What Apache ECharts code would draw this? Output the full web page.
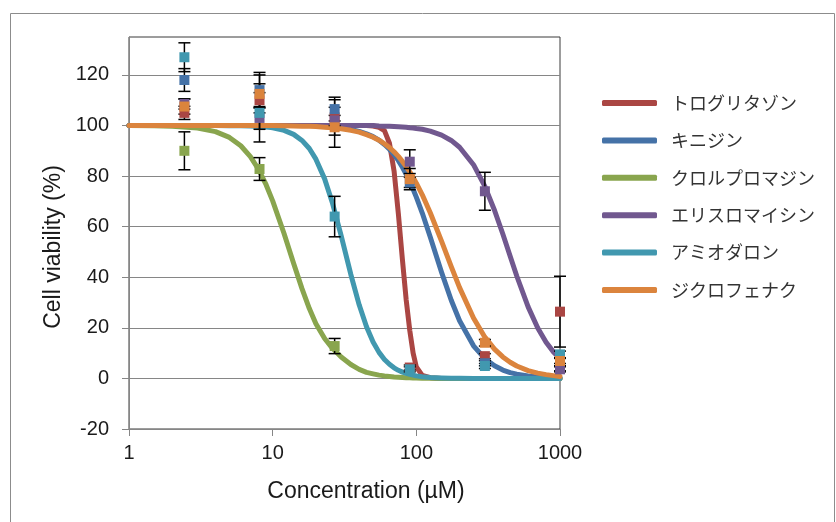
<!DOCTYPE html>
<html>
<head>
<meta charset="utf-8">
<script src="https://cdn.jsdelivr.net/npm/echarts@6/dist/echarts.min.js"></script>
<style>
  html, body { margin: 0; padding: 0; background: #fff; }
  #chart { width: 836px; height: 522px; }
</style>
</head>
<body>
<div id="chart"></div>
<script>
// 薬剤名（凡例）
const drugNames = ['トログリタゾン', 'キニジン', 'クロルプロマジン', 'エリスロマイシン', 'アミオダロン', 'ジクロフェナク'];

// 測定濃度 (µM)
const concentrations = [2.43, 8.1, 27, 90, 300, 1000];

// 測定値（平均）と誤差  null = 図で見えない点
const troglitazoneMean = [105, 110, 103.2, 4.3, 8.8, 26.4];
const troglitazoneErr = [2.6, 3, 7, 1, 1, 14];
const quinidineMean = [118, 114, 106.5, 77.5, 6, 4];
const quinidineErr = [4.5, 7, 4.7, 2, 1, 1];
const chlorpromazineMean = [90, 82.8, 12.8, null, null, null];
const chlorpromazineErr = [7.5, 4.5, 3, null, null, null];
const erythromycinMean = [108.5, 103, 102, 85.7, 74, 3.6];
const erythromycinErr = [2, 4.5, 2, 4.7, 7.5, 1];
const amiodaroneMean = [127, 105, 64, 3.6, 4.9, 9.5];
const amiodaroneErr = [5.7, 11.5, 8, 1, 1, 1.3];
const diclofenacMean = [107.5, 112.5, 99.3, 78.8, 14.1, 6.9];
const diclofenacErr = [3, 7.5, 7.9, 4.2, 1.3, 1];

// フィット曲線
const curveConc = [1, 1.5, 2, 3, 4, 5, 6, 7, 8, 9, 10, 12, 14, 16, 18, 20, 23, 26, 30, 35, 40, 45, 50, 55, 60, 65, 70, 75, 80, 85, 90, 95, 100, 110, 125, 150, 175, 200, 250, 300, 350, 400, 450, 500, 600, 700, 800, 900, 1000];
const troglitazoneFit = [100, 100, 100, 100, 100, 100, 100, 100, 100, 100, 100, 100, 100, 100, 100, 100, 100, 100, 100, 100, 100, 100, 99.8, 99.3, 98, 93, 82, 65, 47, 31, 19, 10, 4.5, 1.2, 0.3, 0, 0, 0, 0, 0, 0, 0, 0, 0, 0, 0, 0, 0, 0];
const quinidineFit = [100, 100, 100, 100, 100, 100, 100, 100, 100, 100, 100, 100, 100, 100, 100, 100, 99.6, 99.4, 99.1, 98.5, 97.7, 96.7, 95.6, 94.2, 92.5, 90.6, 88.5, 86.1, 83.5, 80.7, 77.8, 74.8, 71.7, 65.4, 55.9, 41.9, 30.9, 22.8, 12.9, 7.8, 5.0, 3.3, 2.3, 1.7, 1.0, 0.6, 0.4, 0.3, 0.2];
const chlorpromazineFit = [100, 99.9, 99.7, 99.0, 97.6, 95.3, 92, 87.7, 82.5, 76.6, 70.2, 57.3, 45.4, 35.5, 27.6, 21.6, 15.8, 12, 8.5, 5.5, 3.6, 2.4, 1.8, 1.3, 1.0, 0.8, 0.6, 0.5, 0.4, 0.3, 0.3, 0.2, 0.2, 0.1, 0.1, 0, 0, 0, 0, 0, 0, 0, 0, 0, 0, 0, 0, 0, 0];
const erythromycinFit = [100, 100, 100, 100, 100, 100, 100, 100, 100, 100, 100, 100, 100, 100, 100, 100, 100, 100, 100, 100, 100, 100, 100, 99.8, 99.7, 99.7, 99.6, 99.5, 99.4, 99.3, 99.1, 99.0, 98.8, 98.5, 97.8, 96.2, 94.1, 91.4, 84.5, 75.9, 66.5, 57.1, 48.3, 40.5, 28.3, 19.9, 14.3, 10.5, 7.9];
const amiodaroneFit = [100, 100, 100, 100, 100, 99.9, 99.9, 99.8, 99.6, 99.4, 99.1, 98.1, 96.5, 94.1, 90.9, 86.7, 78.9, 69.6, 56.4, 41.1, 29.1, 20.4, 14.4, 10.3, 7.5, 5.6, 4.2, 3.2, 2.5, 2.0, 1.6, 1.3, 1.0, 0.7, 0.4, 0.2, 0.1, 0.1, 0, 0, 0, 0, 0, 0, 0, 0, 0, 0, 0];
const diclofenacFit = [100, 100, 100, 100, 100, 100, 100, 100, 100, 100, 100, 99.9, 99.8, 99.7, 99.7, 99.6, 99.3, 99.1, 98.7, 98.1, 97.4, 96.4, 95.4, 94.2, 92.8, 91.3, 89.6, 87.8, 85.8, 83.8, 81.7, 79.5, 77.2, 72.6, 65.5, 54.2, 44.2, 35.9, 23.9, 16.3, 11.6, 8.5, 6.4, 4.9, 3.1, 2.1, 1.5, 1.1, 0.8];

// 軸目盛
const yTicks = [-20, 0, 20, 40, 60, 80, 100, 120];

const colors = ['#AA4643', '#4572A7', '#89A54E', '#71588F', '#4198AF', '#DB843D'];

const means = [troglitazoneMean, quinidineMean, chlorpromazineMean, erythromycinMean, amiodaroneMean, diclofenacMean];
const errs = [troglitazoneErr, quinidineErr, chlorpromazineErr, erythromycinErr, amiodaroneErr, diclofenacErr];
const fits = [troglitazoneFit, quinidineFit, chlorpromazineFit, erythromycinFit, amiodaroneFit, diclofenacFit];

// エラーバー描画
const renderErrorBar = (params, api) => {
  const x = api.value(0);
  const top = api.coord([x, api.value(2)]);
  const bot = api.coord([x, api.value(1)]);
  const half = 6;
  const style = { stroke: '#000', lineWidth: 1.5 };
  return {
    type: 'group',
    children: [
      { type: 'line', shape: { x1: top[0], y1: top[1], x2: bot[0], y2: bot[1] }, style },
      { type: 'line', shape: { x1: top[0] - half, y1: top[1], x2: top[0] + half, y2: top[1] }, style },
      { type: 'line', shape: { x1: bot[0] - half, y1: bot[1], x2: bot[0] + half, y2: bot[1] }, style }
    ]
  };
};

const lineSeries = drugNames.map((name, i) => ({
  name: name,
  type: 'line',
  data: curveConc.map((c, j) => [c, fits[i][j]]),
  smooth: false,
  symbol: 'none',
  lineStyle: { width: 5, color: colors[i], join: 'round', cap: 'round' },
  itemStyle: { color: colors[i] },
  z: 2
}));

const errorSeries = drugNames.map((name, i) => ({
  name: name + '_err',
  type: 'custom',
  renderItem: renderErrorBar,
  encode: { x: 0, y: [1, 2] },
  data: concentrations
    .map((c, j) => [c, means[i][j], errs[i][j]])
    .filter(d => d[1] !== null)
    .map(d => [d[0], d[1] - d[2], d[1] + d[2]]),
  silent: true,
  z: 3
}));

const pointSeries = drugNames.map((name, i) => ({
  name: name + '_pt',
  type: 'scatter',
  data: concentrations.map((c, j) => [c, means[i][j]]).filter(d => d[1] !== null),
  symbol: 'rect',
  symbolSize: 10,
  itemStyle: { color: colors[i], opacity: 1 },
  z: 4
}));

const chart = echarts.init(document.getElementById('chart'));

chart.setOption({
  animation: false,
  textStyle: { fontFamily: 'Liberation Sans, Arial, sans-serif' },
  grid: {
    left: 129,
    right: 276,
    top: 37,
    bottom: 93,
    show: true,
    borderColor: '#3a3a3a',
    borderWidth: 1
  },
  legend: {
    data: drugNames,
    orient: 'vertical',
    left: 597,
    top: 87,
    icon: 'roundRect',
    itemWidth: 55,
    itemHeight: 6,
    itemGap: 15.4,
    textStyle: {
      fontFamily: 'Noto Sans CJK JP',
      fontSize: 18,
      lineHeight: 22,
      color: '#333',
      padding: [0, 0, 0, 9]
    }
  },
  xAxis: {
    type: 'log',
    logBase: 10,
    min: 1,
    max: 1000,
    axisLine: { onZero: false, lineStyle: { color: '#868686', width: 1 } },
    axisTick: { show: true, inside: false, length: 7, lineStyle: { color: '#868686' } },
    axisLabel: { fontSize: 20, color: '#1a1a1a', margin: 14, formatter: v => String(v) },
    splitLine: { show: false },
    minorTick: { show: false }
  },
  yAxis: {
    type: 'value',
    min: -20,
    max: 135,
    interval: 20,
    axisLine: { show: true, lineStyle: { color: '#868686', width: 1 } },
    axisTick: { show: true, length: 7, lineStyle: { color: '#868686' }, customValues: yTicks },
    axisLabel: { fontSize: 20, color: '#1a1a1a', margin: 20, customValues: yTicks },
    splitLine: { show: true, lineStyle: { color: '#868686', width: 1 } }
  },
  graphic: [
    {
      type: 'rect',
      shape: { x: 10.5, y: 13.5, width: 824, height: 520 },
      style: { fill: 'none', stroke: '#8c8c8c', lineWidth: 1 },
      z: -1
    },
    {
      type: 'text',
      x: 366,
      y: 492,
      style: {
        text: 'Concentration (µM)',
        fontFamily: 'Liberation Sans, Arial, sans-serif',
        fontSize: 23,
        fill: '#1a1a1a',
        textAlign: 'center',
        textVerticalAlign: 'middle'
      }
    },
    {
      type: 'text',
      x: 54,
      y: 247,
      rotation: Math.PI / 2,
      style: {
        text: 'Cell viability (%)',
        fontFamily: 'Liberation Sans, Arial, sans-serif',
        fontSize: 23,
        fill: '#1a1a1a',
        textAlign: 'center',
        textVerticalAlign: 'middle'
      }
    }
  ],
  series: [...lineSeries, ...errorSeries, ...pointSeries]
});
</script>
</body>
</html>
